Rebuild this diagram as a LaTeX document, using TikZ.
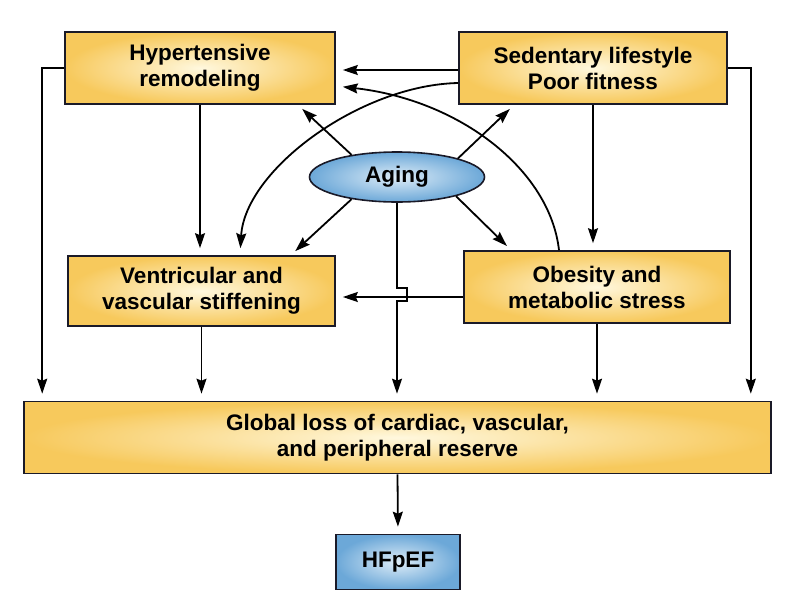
\documentclass[tikz,border=0pt]{standalone}
\usepackage{fontspec}
\setmainfont{Liberation Sans}
\usetikzlibrary{arrows.meta,shapes.geometric,calc}
\definecolor{edgecol}{HTML}{1A1A28}
\definecolor{yelout}{HTML}{F7C95C}
\definecolor{yelin}{HTML}{FFF8DE}
\definecolor{bluout}{HTML}{6CA8D8}
\definecolor{bluin}{HTML}{DDECF7}
\tikzset{
  ybox/.style={draw=edgecol, line width=1.6pt, inner color=yelin, outer color=yelout,
    rectangle, inner sep=0pt, align=center, font=\bfseries\fontsize{22.5}{26}\selectfont, text=black},
  bbox/.style={draw=edgecol, line width=1.6pt, inner color=bluin, outer color=bluout,
    inner sep=0pt, align=center, font=\bfseries\fontsize{22.5}{26}\selectfont, text=black},
  arr/.style={draw=black, line width=1.8pt, -{Stealth[length=15pt,width=10pt,inset=2pt]}, shorten >=7pt},
}
\begin{document}
\begin{tikzpicture}[x=1pt,y=-1pt]
\useasboundingbox (0,0) rectangle (796,611);
\node[ybox, minimum width=270pt, minimum height=72pt] (hyp) at (200,68) {Hypertensive\\remodeling};
\node[ybox, minimum width=268pt, minimum height=72pt] (sed) at (593,68) {Sedentary lifestyle\\Poor fitness};
\node[ybox, minimum width=267pt, minimum height=70pt] (vent) at (201.5,291) {Ventricular and\\vascular stiffening};
\node[ybox, minimum width=266pt, minimum height=72pt] (obes) at (597,287) {Obesity and\\metabolic stress};
\node[bbox, ellipse, minimum width=175pt, minimum height=50pt] (aging) at (397,177) {Aging};
\node[ybox, minimum width=747pt, minimum height=72pt] (glob) at (397.5,437.5) {Global loss of cardiac, vascular,\\and peripheral reserve};
\node[bbox, rectangle, minimum width=124pt, minimum height=55pt] (hf) at (398,562) {HFpEF};

% vertical chains
\draw[arr] (hyp.south) -- (hyp.south |- vent.north);
\draw[arr] (sed.south) -- (sed.south |- obes.north);
\draw[arr] (vent.south) -- (vent.south |- glob.north);
\draw[arr] (obes.south) -- (obes.south |- glob.north);
\draw[arr] (glob.south) -- (hf.north);
% outer side lines
\draw[arr] (hyp.west) -| ([xshift=19pt]glob.north west);
\draw[arr] (sed.east) -| ([xshift=-21pt]glob.north east);
% sedentary -> hypertensive
\draw[arr] ([yshift=-2pt]sed.west) -- ([yshift=-2pt]sed.west -| hyp.east);
% obesity -> ventricular
\draw[arr] ([yshift=-10pt]obes.west) -- ([yshift=-10pt]obes.west -| vent.east);
% curves
\draw[arr] ([yshift=-15pt]sed.west) .. controls (360,85) and (245,170) .. ([xshift=38.5pt]vent.north);
\draw[arr] ([xshift=-38pt]obes.north) .. controls (550,170) and (460,100) .. ([yshift=-18pt]hyp.east);
% aging diagonals
\draw[arr, shorten >=6pt] (aging.154) -- ([xshift=-38pt]hyp.south east);
\draw[arr, shorten >=6pt] (aging.17) -- ([xshift=56pt]sed.south west);
\draw[arr, shorten >=6pt] (aging.206) -- ([xshift=-45pt]vent.north east);
\draw[arr, shorten >=6pt] (aging.-18) -- ([xshift=48pt]obes.north west);
% aging -> global with bridge
\coordinate (j1) at ($(aging.south)+(0,85)$);
\draw[arr] (aging.south) -- (j1) -- ++(10,0) -- ++(0,13) -- ++(-10,0) -- (aging.south |- glob.north);
\end{tikzpicture}
\end{document}
